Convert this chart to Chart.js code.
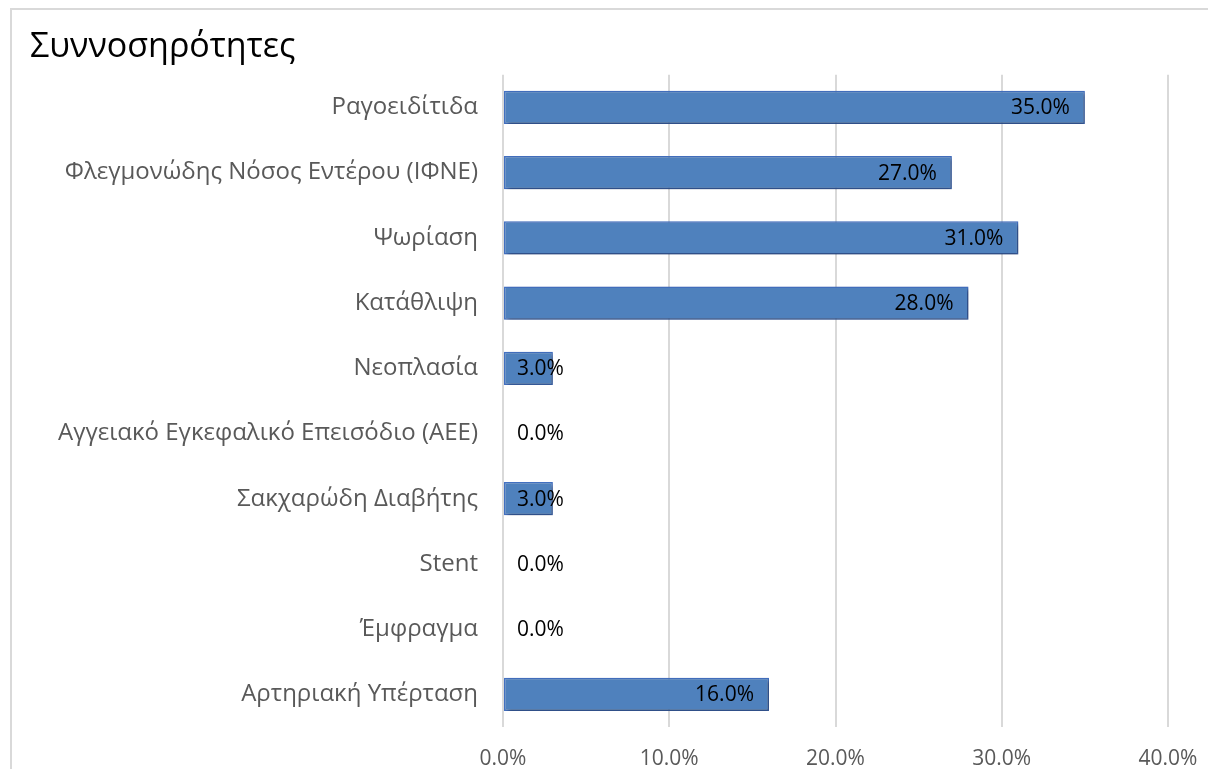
<!DOCTYPE html>
<html>
<head>
<meta charset="utf-8">
<script src="https://cdn.jsdelivr.net/npm/chart.js@4"></script>
<style>
  html, body { margin: 0; padding: 0; background: #fff; overflow: hidden; }
  #wrap { position: relative; width: 1208px; height: 769px; }
  #frame { position: absolute; left: 10px; top: 8px; right: -10px; bottom: -10px; border-left: 2px solid #d9d9d9; border-top: 2px solid #d9d9d9; }
  canvas { position: absolute; left: 0; top: 0; }
</style>
</head>
<body>
<div id="wrap">
  <div id="frame"></div>
  <canvas id="chart" width="1208" height="769"></canvas>
</div>
<script>
const categories = [
  'Ραγοειδίτιδα',
  'Φλεγμονώδης Νόσος Εντέρου (ΙΦΝΕ)',
  'Ψωρίαση',
  'Κατάθλιψη',
  'Νεοπλασία',
  'Αγγειακό Εγκεφαλικό Επεισόδιο (ΑΕΕ)',
  'Σακχαρώδη Διαβήτης',
  'Stent',
  'Έμφραγμα',
  'Αρτηριακή Υπέρταση'
];
const percentages = [35.0, 27.0, 31.0, 28.0, 3.0, 0.0, 3.0, 0.0, 0.0, 16.0];
const tickValues = [0, 10, 20, 30, 40];

const FONT = '"Open Sans", "DejaVu Sans", sans-serif';

// bars get a soft drop shadow
const barShadow = {
  id: 'barShadow',
  beforeDatasetDraw(chart) {
    const ctx = chart.ctx;
    ctx.save();
    ctx.shadowColor = 'rgba(0,0,0,0.4)';
    ctx.shadowBlur = 4;
    ctx.shadowOffsetX = 2;
    ctx.shadowOffsetY = 2;
  },
  afterDatasetDraw(chart) {
    chart.ctx.restore();
  }
};

// value labels at the inner end of each bar
const valueLabels = {
  id: 'valueLabels',
  afterDatasetsDraw(chart) {
    const ctx = chart.ctx;
    const meta = chart.getDatasetMeta(0);
    const base = chart.scales.x.getPixelForValue(0);
    ctx.save();
    ctx.font = '21px ' + FONT;
    ctx.fillStyle = '#000';
    ctx.textBaseline = 'middle';
    ctx.textAlign = 'left';
    meta.data.forEach((bar, i) => {
      const text = percentages[i].toFixed(1) + '%';
      const w = ctx.measureText(text).width;
      const x = Math.max(bar.x - 15 - w, base + 14);
      ctx.fillText(text, x, bar.y + 1);
    });
    ctx.restore();
  }
};

new Chart(document.getElementById('chart'), {
  type: 'bar',
  data: {
    labels: categories,
    datasets: [{
      data: percentages,
      backgroundColor: '#4f81bd',
      borderColor: '#4472c4',
      borderWidth: 1.5,
      borderSkipped: false,
      categoryPercentage: 1,
      barPercentage: 0.51
    }]
  },
  options: {
    indexAxis: 'y',
    responsive: false,
    animation: false,
    layout: { padding: { left: 30, right: 40, top: 8, bottom: 0 } },
    plugins: {
      legend: { display: false },
      tooltip: { enabled: false },
      title: {
        display: true,
        text: 'Συννοσηρότητες',
        align: 'start',
        color: '#000',
        font: { family: FONT, size: 34, weight: 'normal', lineHeight: 1.2 },
        padding: { top: 19, bottom: 7 }
      }
    },
    scales: {
      x: {
        min: 0,
        max: 40,
        afterBuildTicks(scale) {
          scale.ticks = tickValues.map(v => ({ value: v }));
        },
        afterFit(scale) {
          scale.height = 42;
          scale.paddingLeft = 0;
          scale.paddingRight = 0;
        },
        grid: { color: '#d9d9d9', lineWidth: 2, drawTicks: false },
        border: { display: false },
        ticks: {
          padding: 19,
          color: '#595959',
          font: { family: FONT, size: 21 },
          callback: v => v.toFixed(1) + '%'
        }
      },
      y: {
        afterFit(scale) { scale.width = 473; },
        grid: { display: false, drawTicks: false },
        border: { display: false },
        ticks: {
          padding: 25,
          color: '#595959',
          font: { family: FONT, size: 24 }
        }
      }
    }
  },
  plugins: [barShadow, valueLabels]
});
</script>
</body>
</html>
